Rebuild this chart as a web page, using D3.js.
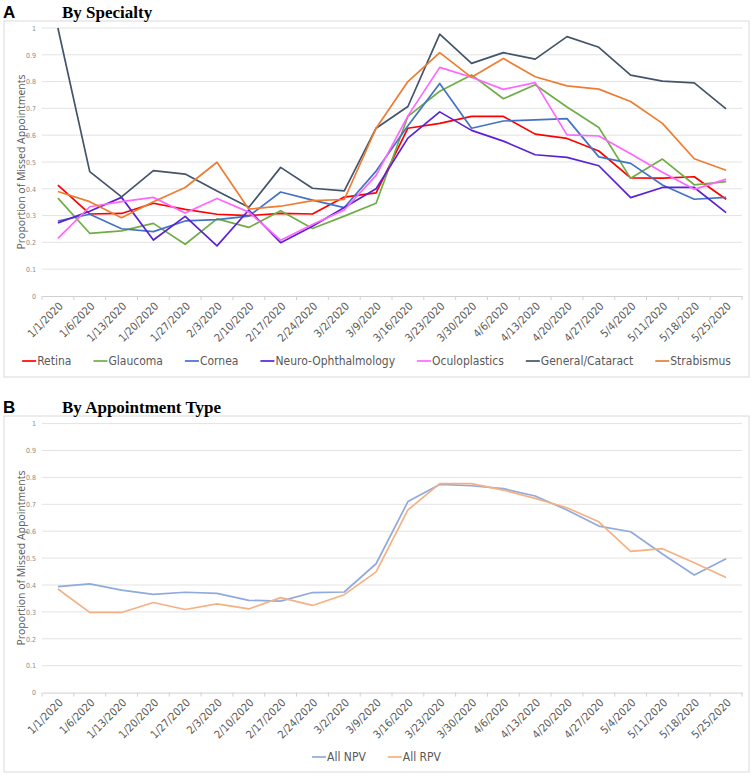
<!DOCTYPE html>
<html><head><meta charset="utf-8">
<script src="https://cdn.jsdelivr.net/npm/d3@7"></script>
<style>
body{margin:0;background:#fff;}
svg{display:block;}
</style></head><body>
<script>
const dates = ["1/1/2020","1/6/2020","1/13/2020","1/20/2020","1/27/2020","2/3/2020","2/10/2020","2/17/2020","2/24/2020","3/2/2020","3/9/2020","3/16/2020","3/23/2020","3/30/2020","4/6/2020","4/13/2020","4/20/2020","4/27/2020","5/4/2020","5/11/2020","5/18/2020","5/25/2020"];
const yTicks = [0,0.1,0.2,0.3,0.4,0.5,0.6,0.7,0.8,0.9,1];
const yTickLabels = ["0","0.1","0.2","0.3","0.4","0.5","0.6","0.7","0.8","0.9","1"];

const specialtyNames = ["Retina","Glaucoma","Cornea","Neuro-Ophthalmology","Oculoplastics","General/Cataract","Strabismus"];
const retina   = [0.414,0.306,0.308,0.346,0.323,0.305,0.300,0.308,0.306,0.369,0.385,0.626,0.644,0.670,0.670,0.604,0.588,0.541,0.441,0.440,0.445,0.361];
const glaucoma = [0.365,0.234,0.243,0.271,0.193,0.288,0.256,0.318,0.252,0.298,0.346,0.670,0.764,0.825,0.736,0.788,0.705,0.629,0.439,0.511,0.415,0.427];
const cornea   = [0.280,0.305,0.251,0.240,0.280,0.285,0.298,0.388,0.358,0.330,0.466,0.635,0.793,0.626,0.653,0.657,0.662,0.519,0.495,0.414,0.361,0.368];
const neuro    = [0.273,0.316,0.368,0.209,0.297,0.187,0.321,0.199,0.260,0.330,0.400,0.589,0.687,0.618,0.578,0.527,0.517,0.486,0.367,0.405,0.405,0.311];
const oculo    = [0.215,0.333,0.352,0.368,0.310,0.364,0.313,0.208,0.267,0.321,0.450,0.672,0.853,0.816,0.771,0.796,0.601,0.597,0.531,0.462,0.398,0.436];
const general  = [1.000,0.464,0.370,0.468,0.455,0.392,0.331,0.480,0.402,0.392,0.626,0.707,0.977,0.868,0.908,0.884,0.968,0.928,0.824,0.802,0.795,0.698];
const strab    = [0.390,0.352,0.292,0.352,0.405,0.499,0.324,0.335,0.356,0.360,0.626,0.800,0.908,0.816,0.886,0.818,0.784,0.772,0.726,0.644,0.512,0.469];
const specialtyColors = ["#FF0000","#70AD47","#4472C4","#5B22D4","#FF66FF","#44546A","#ED7D31"];

const typeNames = ["All NPV","All RPV"];
const npv = [0.394,0.404,0.381,0.365,0.373,0.369,0.343,0.340,0.372,0.374,0.479,0.710,0.774,0.769,0.758,0.731,0.679,0.619,0.598,0.515,0.437,0.498];
const rpv = [0.385,0.298,0.298,0.335,0.309,0.330,0.311,0.353,0.324,0.364,0.449,0.679,0.777,0.777,0.753,0.722,0.687,0.635,0.525,0.535,0.483,0.428];
const typeColors = ["#8FAADC","#F4B183"];

const W = 753, H = 777;
const svg = d3.select("body").append("svg").attr("width", W).attr("height", H);
const LABEL_FONT = "'Liberation Sans Narrow','DejaVu Sans Condensed',sans-serif";

function panel(opts) {
  const {letter, title, top, frame, yTop, yBottom, series, names, colors, legendY} = opts;
  // frame
  svg.append("rect").attr("x", frame[0]).attr("y", frame[1])
    .attr("width", frame[2]-frame[0]).attr("height", frame[3]-frame[1])
    .attr("fill", "#fff").attr("stroke", "#D9D9D9").attr("stroke-width", 1);
  // titles
  svg.append("text").attr("x", 3).attr("y", top).text(letter)
    .attr("font-family", "'Liberation Sans',Arial,sans-serif").attr("font-weight", "bold")
    .attr("font-size", 17).attr("fill", "#000");
  svg.append("text").attr("x", 62).attr("y", top - 0.5).text(title)
    .attr("font-family", "'Liberation Serif','Times New Roman',serif").attr("font-weight", "bold")
    .attr("font-size", 17).attr("fill", "#000");

  const x = d3.scalePoint().domain(dates).range([42, 742]).padding(0.5);
  const xBand = d3.scaleBand().domain(dates).range([42, 742]);
  const y = d3.scaleLinear().domain([0, 1]).range([yBottom, yTop]);
  const g = svg.append("g");

  // gridlines
  g.selectAll(".grid").data(yTicks.slice(1)).join("line")
    .attr("x1", 42).attr("x2", 742).attr("y1", d => y(d)).attr("y2", d => y(d))
    .attr("stroke", "#E3E3E3").attr("stroke-width", 1);

  // y axis labels
  const yAxis = d3.axisLeft(y).tickValues(yTicks).tickFormat((d, i) => yTickLabels[i]).tickSize(0).tickPadding(6);
  const ya = g.append("g").attr("transform", `translate(42,0)`).call(yAxis);
  ya.select(".domain").remove();
  ya.selectAll("text").attr("font-family", LABEL_FONT).attr("font-size", 7).attr("fill", "#8C8C8C");

  // x axis
  const xAxis = d3.axisBottom(xBand).tickSize(0).tickFormat("");
  const xa = g.append("g").attr("transform", `translate(0,${yBottom})`).call(xAxis);
  xa.select(".domain").attr("stroke", "#D0D0D0");
  // boundary ticks
  const bounds = dates.map(d => xBand(d)).concat([742]);
  g.selectAll(".bt").data(bounds).join("line")
    .attr("x1", d => d).attr("x2", d => d).attr("y1", yBottom).attr("y2", yBottom + 4)
    .attr("stroke", "#D0D0D0");
  g.selectAll(".xl").data(dates).join("text")
    .attr("transform", d => `translate(${x(d) + 3},${yBottom + 8}) rotate(-45)`)
    .attr("text-anchor", "end").attr("dy", "0.35em")
    .attr("font-family", LABEL_FONT).attr("font-size", 11).attr("fill", "#595959")
    .text(d => d);

  // y title
  svg.append("text")
    .attr("transform", `translate(21,${(yTop + yBottom) / 2}) rotate(-90)`)
    .attr("text-anchor", "middle").attr("dy", "0.35em")
    .attr("font-family", "'Open Sans','DejaVu Sans',sans-serif").attr("font-size", 10.5).attr("fill", "#595959")
    .text("Proportion of Missed Appointments");

  // lines
  const line = d3.line().x((d, i) => x(dates[i])).y(d => y(d));
  series.forEach((s, k) => {
    g.append("path").datum(s).attr("d", line)
      .attr("fill", "none").attr("stroke", colors[k]).attr("stroke-width", 1.7)
      .attr("stroke-linejoin", "round");
  });

  // legend
  const lg = svg.append("g");
  let cx = 0;
  const items = [];
  names.forEach((n, k) => {
    const it = lg.append("g");
    it.append("line").attr("x1", 0).attr("x2", 14).attr("y1", 0).attr("y2", 0)
      .attr("stroke", colors[k]).attr("stroke-width", 1.7);
    const t = it.append("text").attr("x", 15).attr("dy", "0.35em")
      .attr("font-family", LABEL_FONT).attr("font-size", 12).attr("fill", "#595959").text(n);
    const w = 15 + t.node().getComputedTextLength();
    items.push({it, w});
  });
  const gap = 22;
  const total = d3.sum(items, d => d.w) + gap * (items.length - 1);
  let start = (frame[0] + frame[2]) / 2 - total / 2;
  items.forEach(d => { d.it.attr("transform", `translate(${start},${legendY})`); start += d.w + gap; });
}

panel({letter: "A", title: "By Specialty", top: 18, frame: [4, 21, 749, 377],
  yTop: 28, yBottom: 296, series: [retina, glaucoma, cornea, neuro, oculo, general, strab],
  names: specialtyNames, colors: specialtyColors, legendY: 361});
panel({letter: "B", title: "By Appointment Type", top: 413, frame: [4, 416, 749, 772],
  yTop: 423.6, yBottom: 692.6, series: [npv, rpv],
  names: typeNames, colors: typeColors, legendY: 757});
</script>
</body></html>
